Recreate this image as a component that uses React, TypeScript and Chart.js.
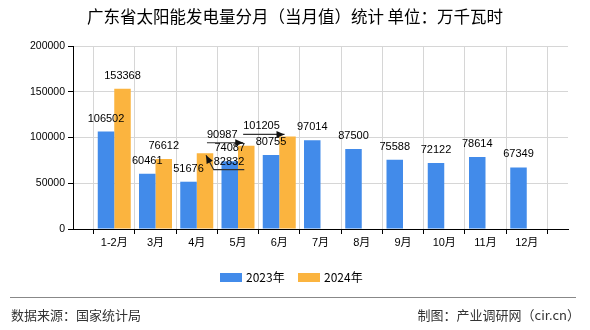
import React, { useEffect, useRef } from 'react';
import { Chart, registerables } from 'chart.js';

Chart.register(...registerables);

const TITLE = '广东省太阳能发电量分月（当月值）统计 单位：万千瓦时';
const MONTHS = ['1-2月', '3月', '4月', '5月', '6月', '7月', '8月', '9月', '10月', '11月', '12月'];
const SERIES_2023 = [106502, 60461, 51676, 74087, 80755, 97014, 87500, 75588, 72122, 78614, 67349];
const SERIES_2024 = [153368, 76612, 82832, 90987, 101205];
const SERIES_NAMES = ['2023年', '2024年'];
const Y_MAX = 200000;
const Y_STEP = 50000;
const SOURCE = '数据来源：国家统计局';
const MAKER = '制图：产业调研网（cir.cn）';

const BLUE = '#428BEA';
const ORANGE = '#FBB43F';
const NUM_FONT = "'Liberation Sans', 'Noto Sans CJK SC', sans-serif";
const CJK_FONT = "'Noto Sans CJK SC', 'Liberation Sans', sans-serif";

// label callouts (label displaced with leader line), keyed by dataset:month
const CALLOUTS: Record<string, { dx: number; dy: number; kind: 'up' | 'right' }> = {
  '1:4月': { dx: 24, dy: 22, kind: 'up' },
  '1:5月': { dx: -24, dy: 2, kind: 'right' },
  '1:6月': { dx: -26, dy: 3, kind: 'right' },
};

function arrowHead(ctx: CanvasRenderingContext2D, x0: number, y0: number, x1: number, y1: number) {
  const ang = Math.atan2(y1 - y0, x1 - x0);
  const len = 8;
  const hw = 3.5;
  ctx.beginPath();
  ctx.moveTo(x1, y1);
  ctx.lineTo(x1 - len * Math.cos(ang) + hw * Math.sin(ang), y1 - len * Math.sin(ang) - hw * Math.cos(ang));
  ctx.lineTo(x1 - len * Math.cos(ang) - hw * Math.sin(ang), y1 - len * Math.sin(ang) + hw * Math.cos(ang));
  ctx.closePath();
  ctx.fill();
}

const decorPlugin = {
  id: 'decor',
  afterDatasetsDraw(chart: any) {
    const ctx: CanvasRenderingContext2D = chart.ctx;
    const labels: string[] = chart.data.labels;
    ctx.save();
    ctx.font = `11px ${NUM_FONT}`;
    ctx.textAlign = 'center';
    ctx.textBaseline = 'middle';
    chart.data.datasets.forEach((ds: any, di: number) => {
      const meta = chart.getDatasetMeta(di);
      meta.data.forEach((el: any, i: number) => {
        const v = ds.data[i];
        if (v === null || v === undefined) return;
        const text = String(v);
        const key = `${di}:${labels[i]}`;
        const c = CALLOUTS[key];
        let lx = el.x;
        let ly = el.y - 13;
        if (c) {
          lx += c.dx;
          ly += c.dy;
        }
        ctx.fillStyle = '#000';
        ctx.fillText(text, lx, ly);
        if (c) {
          const w = ctx.measureText(text).width;
          ctx.strokeStyle = '#333';
          ctx.fillStyle = '#111';
          ctx.lineWidth = 1.2;
          if (c.kind === 'up') {
            const uy = ly + 7.5;
            ctx.beginPath();
            ctx.moveTo(lx + w / 2, uy);
            ctx.lineTo(lx - w / 2, uy);
            const tx = el.x + 1;
            const ty = el.y + 2;
            ctx.lineTo(tx, ty);
            ctx.stroke();
            arrowHead(ctx, lx - w / 2, uy, tx, ty);
          } else {
            const uy = ly + 8;
            const tx = el.x - 3;
            ctx.beginPath();
            ctx.moveTo(lx - w / 2, uy);
            ctx.lineTo(tx, uy);
            ctx.stroke();
            arrowHead(ctx, lx - w / 2, uy, tx, uy);
          }
        }
      });
    });
    ctx.restore();
  },
  afterDraw(chart: any) {
    const ctx: CanvasRenderingContext2D = chart.ctx;
    ctx.save();
    // title
    ctx.fillStyle = '#000';
    ctx.font = `16.5px ${CJK_FONT}`;
    ctx.textAlign = 'center';
    ctx.textBaseline = 'middle';
    ctx.fillText(TITLE, 295, 17);
    // legend
    const items = chart.data.datasets.map((d: any) => ({ label: d.label, color: d.backgroundColor }));
    const starts = [220, 298];
    ctx.font = `12px ${CJK_FONT}`;
    ctx.textAlign = 'left';
    items.forEach((it: any, k: number) => {
      const x = starts[k];
      ctx.fillStyle = it.color;
      ctx.fillRect(x, 273, 22, 9);
      ctx.fillStyle = '#000';
      ctx.fillText(it.label, x + 26, 277.5);
    });
    // separator
    ctx.strokeStyle = '#888';
    ctx.lineWidth = 1;
    ctx.beginPath();
    ctx.moveTo(10, 297.5);
    ctx.lineTo(576, 297.5);
    ctx.stroke();
    // footer
    ctx.fillStyle = '#333';
    ctx.font = `13px ${CJK_FONT}`;
    ctx.textAlign = 'left';
    ctx.fillText(SOURCE, 11, 315);
    ctx.textAlign = 'right';
    ctx.fillText(MAKER, 580, 315);
    ctx.restore();
  },
};

export default function App() {
  const ref = useRef<HTMLCanvasElement | null>(null);
  useEffect(() => {
    document.body.style.margin = '0';
    const canvas = ref.current;
    if (!canvas) return;
    const labels = ['', ...MONTHS, ''];
    const pad = (arr: number[]) => {
      const out: (number | null)[] = [null, ...arr];
      while (out.length < labels.length) out.push(null);
      return out;
    };
    const chart = new Chart(canvas, {
      type: 'bar',
      data: {
        labels,
        datasets: [
          { label: SERIES_NAMES[0], data: pad(SERIES_2023), backgroundColor: BLUE, borderWidth: 0 },
          { label: SERIES_NAMES[1], data: pad(SERIES_2024), backgroundColor: ORANGE, borderWidth: 0 },
        ],
      },
      options: {
        animation: false,
        responsive: false,
        devicePixelRatio: 1,
        layout: { padding: { left: 0, right: 22, top: 46, bottom: 71 } },
        plugins: {
          legend: { display: false },
          title: { display: false },
          tooltip: { enabled: false },
        },
        datasets: { bar: { categoryPercentage: 0.8, barPercentage: 1.0 } },
        scales: {
          x: {
            type: 'category',
            offset: false,
            afterFit: (s: any) => { s.height = 30; },
            grid: {
              color: (c: any) => (c.index === 0 ? 'rgba(0,0,0,0)' : '#d6d6d6'),
              tickColor: '#000',
              tickLength: 5,
              lineWidth: 1,
            },
            border: { color: '#000', width: 1 },
            ticks: {
              autoSkip: false,
              maxRotation: 0,
              padding: 2,
              color: '#000',
              font: { size: 11, family: NUM_FONT },
            },
          },
          y: {
            min: 0,
            max: Y_MAX,
            afterFit: (s: any) => { s.width = 73; },
            grid: {
              color: (c: any) => (c.index === 0 ? 'rgba(0,0,0,0)' : '#d6d6d6'),
              tickColor: '#000',
              tickLength: 5,
              lineWidth: 1,
            },
            border: { color: '#000', width: 1 },
            ticks: {
              stepSize: Y_STEP,
              padding: 3,
              color: '#000',
              font: { size: 10.5, family: NUM_FONT },
              callback: (v: any) => String(v),
            },
          },
        },
      },
      plugins: [decorPlugin],
    } as any);
    return () => chart.destroy();
  }, []);
  return (
    <div style={{ position: 'absolute', left: 0, top: 0, width: 590, height: 330, background: '#fff' }}>
      <canvas ref={ref} width={590} height={330} style={{ width: 590, height: 330, display: 'block' }} />
    </div>
  );
}
